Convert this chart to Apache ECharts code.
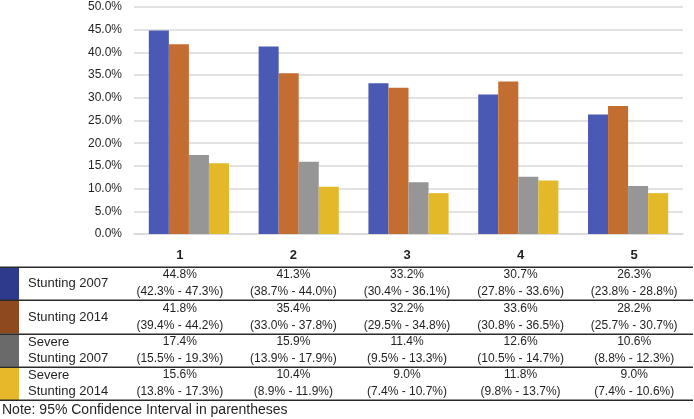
<!DOCTYPE html>
<html>
<head>
<meta charset="utf-8">
<script src="https://cdn.jsdelivr.net/npm/echarts@6/dist/echarts.min.js"></script>
<style>
html,body{margin:0;padding:0;background:#fff;}
#chart{width:694px;height:419px;}
</style>
</head>
<body>
<div id="chart"></div>
<script>
const categories = ['1', '2', '3', '4', '5'];
const yTicks = [0, 5, 10, 15, 20, 25, 30, 35, 40, 45, 50];

const stunting2007 = [44.8, 41.3, 33.2, 30.7, 26.3];
const stunting2007Low = [42.3, 38.7, 30.4, 27.8, 23.8];
const stunting2007High = [47.3, 44.0, 36.1, 33.6, 28.8];

const stunting2014 = [41.8, 35.4, 32.2, 33.6, 28.2];
const stunting2014Low = [39.4, 33.0, 29.5, 30.8, 25.7];
const stunting2014High = [44.2, 37.8, 34.8, 36.5, 30.7];

const severe2007 = [17.4, 15.9, 11.4, 12.6, 10.6];
const severe2007Low = [15.5, 13.9, 9.5, 10.5, 8.8];
const severe2007High = [19.3, 17.9, 13.3, 14.7, 12.3];

const severe2014 = [15.6, 10.4, 9.0, 11.8, 9.0];
const severe2014Low = [13.8, 8.9, 7.4, 9.8, 7.4];
const severe2014High = [17.3, 11.9, 10.7, 13.7, 10.6];

const seriesNames = ['Stunting 2007', 'Stunting 2014', 'Severe Stunting 2007', 'Severe Stunting 2014'];
const rowLabels = ['Stunting 2007', 'Stunting 2014', 'Severe\nStunting 2007', 'Severe\nStunting 2014'];
const noteText = 'Note: 95% Confidence Interval in parentheses';

const barColors = ['#4959B4', '#C46D31', '#969696', '#E4B929'];
const swatchColors = ['#2E3A8C', '#8E4A1E', '#6A6A6A', '#E6B82A'];

const values = [stunting2007, stunting2014, severe2007, severe2014];
const lows = [stunting2007Low, stunting2014Low, severe2007Low, severe2014Low];
const highs = [stunting2007High, stunting2014High, severe2007High, severe2014High];

const chart = echarts.init(document.getElementById('chart'), null, {renderer: 'canvas'});

// table layout
const textColor = '#231F20';
const tableTop = 267;
const rowH = 33.3;
const tableLeft = 123;
const colW = 113.6;
const lineRight = 693;
const swatchW = 19;

const graphics = [];
// header labels
categories.forEach((c, i) => {
  graphics.push({
    type: 'text', x: tableLeft + (i + 0.5) * colW, y: 255,
    style: {text: c, fill: textColor, font: 'bold 13px "Liberation Sans", Arial, sans-serif', textAlign: 'center', textVerticalAlign: 'middle'}
  });
});
// rows
for (let r = 0; r < 4; r++) {
  const y0 = tableTop + r * rowH;
  const yc = y0 + rowH / 2;
  graphics.push({type: 'rect', shape: {x: 0, y: y0, width: swatchW, height: rowH}, style: {fill: swatchColors[r]}});
  graphics.push({
    type: 'text', x: 28, y: yc,
    style: {text: rowLabels[r], fill: textColor, font: '13px "Liberation Sans", Arial, sans-serif', lineHeight: 15.5, textAlign: 'left', textVerticalAlign: 'middle'}
  });
  for (let i = 0; i < categories.length; i++) {
    const t = values[r][i].toFixed(1) + '%\n(' + lows[r][i].toFixed(1) + '% - ' + highs[r][i].toFixed(1) + '%)';
    graphics.push({
      type: 'text', x: tableLeft + (i + 0.5) * colW, y: yc,
      style: {text: t, fill: textColor, font: '12px "Liberation Sans", Arial, sans-serif', lineHeight: 17, textAlign: 'center', textVerticalAlign: 'middle'}
    });
  }
}
// lines
for (let r = 0; r <= 4; r++) {
  const y = Math.round(tableTop + r * rowH) + 0.25;
  graphics.push({type: 'line', shape: {x1: 0, y1: y, x2: lineRight, y2: y}, style: {stroke: '#2b2b2b', lineWidth: 1.5}});
}
graphics.push({
  type: 'text', x: 2, y: 410,
  style: {text: noteText, fill: textColor, font: '14px "Liberation Sans", Arial, sans-serif', textAlign: 'left', textVerticalAlign: 'middle'}
});

const option = {
  animation: false,
  backgroundColor: '#fff',
  grid: {left: 134, right: 11, top: 7, bottom: 185, containLabel: false},
  xAxis: {
    type: 'category', data: categories,
    axisLine: {show: true, lineStyle: {color: '#d9d9d9', width: 1.5}},
    axisTick: {show: false}, axisLabel: {show: false}
  },
  yAxis: {
    type: 'value', min: 0, max: 50, interval: 5,
    axisLine: {show: false}, axisTick: {show: false},
    splitLine: {lineStyle: {color: '#d9d9d9', width: 1.5}},
    axisLabel: {
      color: textColor, fontSize: 12, fontFamily: '"Liberation Sans", Arial, sans-serif', margin: 12,
      formatter: v => v.toFixed(1) + '%'
    }
  },
  series: seriesNames.map((n, k) => ({
    name: n, type: 'bar', data: values[k],
    barGap: '0%', barCategoryGap: '27%',
    itemStyle: {color: barColors[k]}
  })),
  graphic: graphics
};
chart.setOption(option);
</script>
</body>
</html>
